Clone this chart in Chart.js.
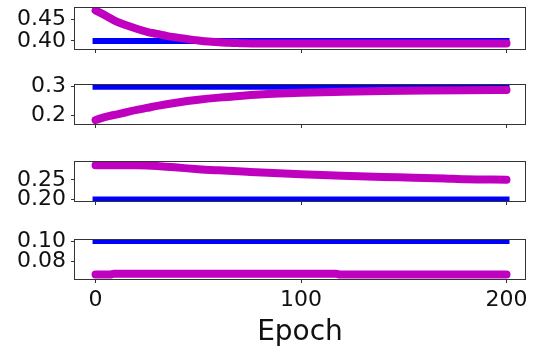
<!DOCTYPE html>
<html lang="en">
<head>
  <meta charset="UTF-8">
  <title>Parameter fits per epoch</title>
  <style>
    body { margin: 0; background: #fff; }
    #wrap { position: relative; width: 538px; height: 356px; overflow: hidden; }
    canvas { position: absolute; left: 0; }
  </style>
  <script src="https://cdn.jsdelivr.net/npm/chart.js"></script>
</head>
<body>
  <div id="wrap">
    <canvas id="p1" width="538" height="59" style="top:0px"></canvas>
    <canvas id="p2" width="538" height="59" style="top:75px"></canvas>
    <canvas id="p3" width="538" height="59" style="top:152px"></canvas>
    <canvas id="p4" width="538" height="126" style="top:230px"></canvas>
  </div>
  <script>
    // true parameter values (blue), drawn from epoch 0 to 200
    const targets = [0.40, 0.30, 0.20, 0.10];
    const targetEpochs = [0, 200];

    // fitted values (magenta)
    const fitEpochs1 = [0, 5, 10, 15, 20, 25, 30, 35, 40, 45, 50, 55, 60, 65, 70, 80, 100, 120, 140, 160, 180, 200];
    const fitValues1 = [0.470, 0.458, 0.445, 0.436, 0.428, 0.421, 0.416, 0.411, 0.4075, 0.404, 0.401, 0.3985, 0.397, 0.3955, 0.3948, 0.394, 0.394, 0.394, 0.394, 0.394, 0.394, 0.394];

    const fitEpochs2 = [0, 5, 10, 15, 20, 25, 30, 40, 50, 60, 70, 80, 90, 100, 120, 140, 160, 180, 200];
    const fitValues2 = [0.184, 0.195, 0.203, 0.211, 0.219, 0.226, 0.233, 0.245, 0.2545, 0.262, 0.268, 0.273, 0.2765, 0.2793, 0.2825, 0.285, 0.2868, 0.288, 0.2886];

    const fitEpochs3 = [0, 20, 30, 40, 50, 60, 75, 100, 120, 140, 155, 170, 180, 200];
    const fitValues3 = [0.2875, 0.2872, 0.2855, 0.2815, 0.2775, 0.2745, 0.2705, 0.2642, 0.2605, 0.2575, 0.2558, 0.2535, 0.2515, 0.2505];

    const fitEpochs4 = [0, 7, 9, 117, 119, 200];
    const fitValues4 = [0.0665, 0.0665, 0.0673, 0.0673, 0.0665, 0.0665];

    // y ranges and ticks for each panel
    const yRanges = [[0.3813, 0.4757], [0.170, 0.306], [0.196, 0.2958], [0.062, 0.101]];
    const yTicks1 = [0.40, 0.45];  const yTickLabels1 = ['0.40', '0.45'];
    const yTicks2 = [0.2, 0.3];    const yTickLabels2 = ['0.2', '0.3'];
    const yTicks3 = [0.20, 0.25];  const yTickLabels3 = ['0.20', '0.25'];
    const yTicks4 = [0.08, 0.10];  const yTickLabels4 = ['0.08', '0.10'];

    const xTicks = [0, 100, 200];
    const xTickLabels = ['0', '100', '200'];
    const xLabel = 'Epoch';

    const FONT = 'DejaVu Sans';

    // draws the box round the plot area, like matplotlib spines
    const framePlugin = {
      id: 'frame',
      afterDatasetsDraw(chart) {
        const a = chart.chartArea;
        const ctx = chart.ctx;
        ctx.save();
        ctx.strokeStyle = '#333';
        ctx.lineWidth = 1;
        ctx.strokeRect(a.left - 0.5, a.top - 0.5, a.right - a.left + 1, a.bottom - a.top + 1);
        ctx.restore();
      }
    };

    function toPoints(xs, ys) {
      return xs.map((x, i) => ({ x: x, y: ys[i] }));
    }

    function makePanel(id, target, fitX, fitY, range, yTicks, yLabels, isBottom) {
      const padTop = id === 'p1' ? 8 : 10;
      const xHeight = isBottom ? 77 : 10;
      return new Chart(document.getElementById(id), {
        type: 'line',
        data: {
          datasets: [
            {
              data: toPoints(targetEpochs, [target, target]),
              borderColor: '#0000ff',
              borderWidth: 6,
              borderCapStyle: 'square',
              pointRadius: 0,
              order: 1
            },
            {
              data: toPoints(fitX, fitY),
              borderColor: '#bf00bf',
              borderWidth: 8,
              borderCapStyle: 'round',
              borderJoinStyle: 'round',
              cubicInterpolationMode: 'monotone',
              pointRadius: 0,
              order: 0
            }
          ]
        },
        options: {
          responsive: false,
          animation: false,
          devicePixelRatio: 1,
          layout: { autoPadding: false, padding: { top: padTop, bottom: 0, left: 0, right: 13 } },
          plugins: { legend: { display: false }, tooltip: { enabled: false } },
          scales: {
            x: {
              type: 'linear',
              min: -10,
              max: 209,
              afterBuildTicks: s => { s.ticks = xTicks.map(v => ({ value: v })); },
              afterFit: s => { s.height = xHeight; s.paddingLeft = 0; s.paddingRight = 0; },
              grid: { drawOnChartArea: false, drawTicks: true, tickLength: 4, color: '#333' },
              border: { display: false },
              ticks: {
                display: isBottom,
                padding: 4,
                color: '#111',
                font: { family: FONT, size: 22 },
                maxRotation: 0,
                autoSkip: false,
                callback: v => xTickLabels[xTicks.indexOf(v)]
              },
              title: {
                display: isBottom,
                text: xLabel,
                color: '#111',
                font: { family: FONT, size: 28 },
                padding: { top: 0, bottom: 6 }
              }
            },
            y: {
              min: range[0],
              max: range[1],
              afterBuildTicks: s => { s.ticks = yTicks.map(v => ({ value: v })); },
              afterFit: s => { s.width = 75; s.paddingTop = 0; s.paddingBottom = 0; },
              grid: { drawOnChartArea: false, drawTicks: true, tickLength: 4, color: '#333' },
              border: { display: false },
              ticks: {
                padding: 5,
                color: '#111',
                font: { family: FONT, size: 22 },
                autoSkip: false,
                callback: v => yLabels[yTicks.indexOf(v)]
              }
            }
          }
        },
        plugins: [framePlugin]
      });
    }

    makePanel('p1', targets[0], fitEpochs1, fitValues1, yRanges[0], yTicks1, yTickLabels1, false);
    makePanel('p2', targets[1], fitEpochs2, fitValues2, yRanges[1], yTicks2, yTickLabels2, false);
    makePanel('p3', targets[2], fitEpochs3, fitValues3, yRanges[2], yTicks3, yTickLabels3, false);
    makePanel('p4', targets[3], fitEpochs4, fitValues4, yRanges[3], yTicks4, yTickLabels4, true);
  </script>
</body>
</html>
